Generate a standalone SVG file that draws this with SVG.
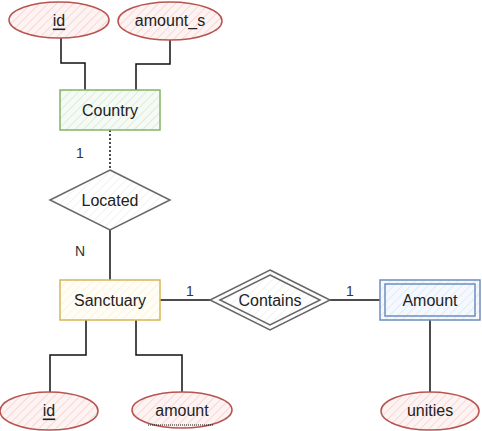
<svg xmlns="http://www.w3.org/2000/svg" width="482" height="431" viewBox="0 0 482 431">
<style>
text{font-family:"Liberation Sans","DejaVu Sans",sans-serif;font-size:16px;fill:#222;text-anchor:middle;dominant-baseline:central}
.attr{fill:url(#hr);stroke:#b85450;stroke-width:1.5}
.conn{fill:none;stroke:#111;stroke-width:1.5}
.card{font-size:14px;fill:#333}
</style>
<defs>
<pattern id="hr" width="6" height="6" patternUnits="userSpaceOnUse" patternTransform="rotate(45)"><rect width="6" height="6" fill="#fdf3f2"/><line x1="0" y1="0" x2="0" y2="6" stroke="#f5d0cd" stroke-width="1.5"/></pattern>
<pattern id="hg" width="6" height="6" patternUnits="userSpaceOnUse" patternTransform="rotate(45)"><rect width="6" height="6" fill="#f5faf4"/><line x1="0" y1="0" x2="0" y2="6" stroke="#d5e8d4" stroke-width="1.5"/></pattern>
<pattern id="hy" width="6" height="6" patternUnits="userSpaceOnUse" patternTransform="rotate(45)"><rect width="6" height="6" fill="#fffdf7"/><line x1="0" y1="0" x2="0" y2="6" stroke="#fff2cc" stroke-width="1.5"/></pattern>
<pattern id="hb" width="6" height="6" patternUnits="userSpaceOnUse" patternTransform="rotate(45)"><rect width="6" height="6" fill="#f5f8fd"/><line x1="0" y1="0" x2="0" y2="6" stroke="#dae8fc" stroke-width="1.5"/></pattern>
<pattern id="hw" width="6" height="6" patternUnits="userSpaceOnUse" patternTransform="rotate(45)"><rect width="6" height="6" fill="#ffffff"/><line x1="0" y1="0" x2="0" y2="6" stroke="#eeeeee" stroke-width="1.5"/></pattern>
</defs>
<g id="connectors">
<path class="conn" d="M61,38 V63 H85 V90"/>
<path class="conn" d="M170,40 V64 H136 V90"/>
<path class="conn" d="M110,130 V170" stroke-dasharray="2,2"/>
<path class="conn" d="M110,230 V280"/>
<path class="conn" d="M160,300 H210"/>
<path class="conn" d="M330,300 H380"/>
<path class="conn" d="M430,320 V392"/>
<path class="conn" d="M86,320 V355 H50 V392"/>
<path class="conn" d="M136,320 V355 H182 V392"/>
<text class="card" x="80" y="153">1</text>
<text class="card" x="80" y="251">N</text>
<text class="card" x="190" y="291">1</text>
<text class="card" x="350" y="291">1</text>
</g>
<g id="attr-id-top"><ellipse class="attr" cx="59" cy="20" rx="50" ry="18"/><text x="59" y="20" text-decoration="underline">id</text></g>
<g id="attr-amount_s"><ellipse class="attr" cx="170" cy="21" rx="52" ry="19"/><text x="170" y="20">amount_s</text></g>
<g id="country"><rect x="60" y="90" width="100" height="40" fill="url(#hg)" stroke="#82b366" stroke-width="1.5"/><text x="110" y="110">Country</text></g>
<g id="located"><polygon points="110,170 170,200 110,230 50,200" fill="url(#hw)" stroke="#666" stroke-width="1.5"/><text x="110" y="200" fill="#444">Located</text></g>
<g id="sanctuary"><rect x="60" y="280" width="100" height="40" fill="url(#hy)" stroke="#d6b656" stroke-width="1.5"/><text x="110" y="300">Sanctuary</text></g>
<g id="contains"><polygon points="270,270 330,300 270,330 210,300" fill="url(#hw)" stroke="#666" stroke-width="1.5"/><polygon points="270,275 320,300 270,325 220,300" fill="none" stroke="#666" stroke-width="1.5"/><text x="270" y="300" fill="#333">Contains</text></g>
<g id="amount-entity"><rect x="380" y="280" width="100" height="40" fill="url(#hb)" stroke="#6c8ebf" stroke-width="1.5"/><rect x="385" y="284" width="90" height="32" fill="none" stroke="#6c8ebf" stroke-width="1.5"/><text x="430" y="300">Amount</text></g>
<g id="attr-id-bottom"><ellipse class="attr" cx="49" cy="411" rx="49" ry="19"/><text x="49" y="410" text-decoration="underline">id</text></g>
<g id="attr-amount"><ellipse class="attr" cx="182" cy="410" rx="50" ry="18"/><text x="182" y="410">amount</text><line x1="148" y1="425" x2="213" y2="425" stroke="#111" stroke-width="1" stroke-dasharray="1,1"/></g>
<g id="attr-unities"><ellipse class="attr" cx="430" cy="411" rx="49" ry="19"/><text x="430" y="410">unities</text></g>
</svg>
